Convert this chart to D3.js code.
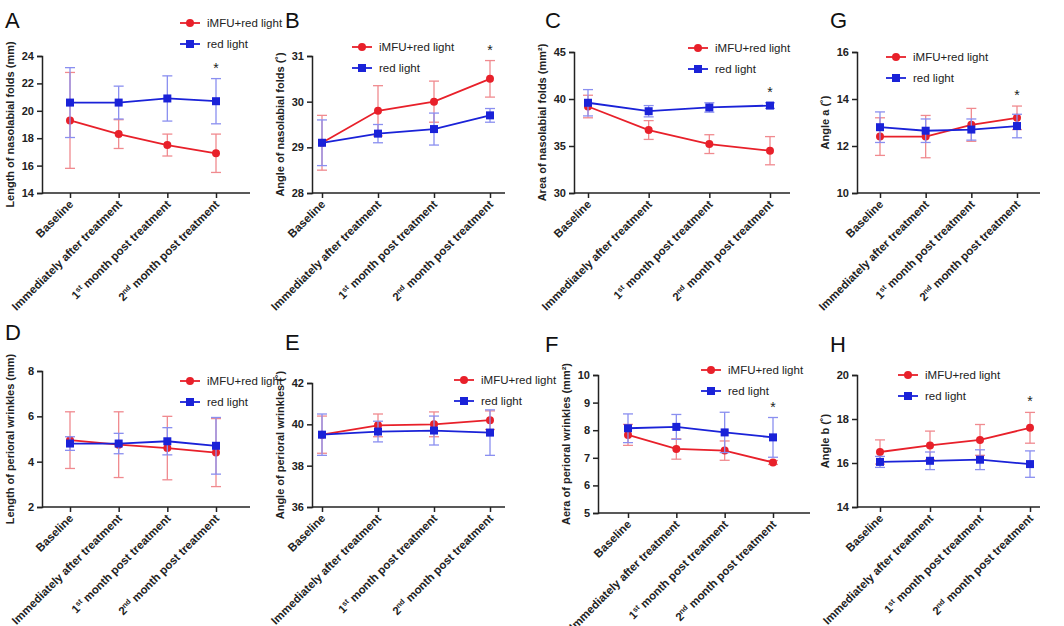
<!DOCTYPE html><html><head><meta charset="utf-8">
<script src="https://cdn.jsdelivr.net/npm/d3@7"></script>
<style>body{margin:0;background:#fff}text{font-family:Arial,"Liberation Sans",sans-serif}</style></head><body>
<svg id="c" width="1064" height="626"></svg>
<script>
const categories=["Baseline","Immediately after treatment","1st month post treatment","2nd month post treatment"];
const seriesNames=["iMFU+red light","red light"];
const panelLetters=["A","B","C","G","D","E","F","H"];
const yLabels=["Length of nasolabial folds (mm)","Angle of nasolabial folds (˚)","Area of nasolabial folds (mm²)","Angle a (˚)","Length of perioral wrinkles (mm)","Angle of perioral wrinkles (˚)","Aera of perioral wrinkles (mm²)","Angle b (˚)"];
const yDomains=[[14,24],[28,31],[30,45],[10,16],[2,8],[36,42],[5,10],[14,20]];
const yStep=[2,1,5,2,2,2,1,2];
const redValues=[[19.3,18.3,17.5,16.9],[29.1,29.8,30.0,30.5],[39.2,36.7,35.2,34.5],[12.4,12.4,12.9,13.2],[4.95,4.75,4.6,4.4],[39.5,39.95,40.0,40.2],[7.83,7.32,7.26,6.83],[16.5,16.8,17.05,17.6]];
const redErr=[[3.5,1.05,0.8,1.4],[0.6,0.55,0.45,0.4],[1.2,1.0,1.0,1.5],[0.8,0.9,0.7,0.5],[1.25,1.45,1.4,1.5],[0.9,0.55,0.6,0.45],[0.38,0.37,0.35,0.07],[0.55,0.65,0.7,0.7]];
const blueValues=[[20.6,20.6,20.9,20.7],[29.1,29.3,29.4,29.7],[39.6,38.7,39.1,39.3],[12.8,12.65,12.7,12.85],[4.8,4.8,4.9,4.7],[39.5,39.65,39.7,39.6],[8.07,8.12,7.92,7.74],[16.05,16.1,16.15,15.95]];
const blueErr=[[2.55,1.2,1.65,1.65],[0.5,0.2,0.35,0.15],[1.4,0.6,0.5,0.3],[0.65,0.5,0.45,0.5],[0.3,0.45,0.6,1.25],[1.0,0.5,0.7,1.1],[0.52,0.45,0.73,0.72],[0.25,0.4,0.45,0.6]];
const starred=[true,true,true,true,false,false,true,true];

const L=[
 {ax:42,right:250,top:56,bot:193,x0:70,x1:216,lx:180,ly:23,lt:[5,28]},
 {ax:312,right:505,top:56,bot:193,x0:322,x1:490,lx:352,ly:47,lt:[285,28]},
 {ax:574,right:790,top:52,bot:193,x0:588,x1:770,lx:688,ly:48,lt:[545,28]},
 {ax:857,right:1040,top:52,bot:193,x0:880,x1:1017,lx:886,ly:57,lt:[830,28]},
 {ax:42,right:250,top:371,bot:507,x0:70,x1:216,lx:180,ly:381,lt:[5,340]},
 {ax:312,right:505,top:383,bot:507,x0:322,x1:490,lx:454,ly:380,lt:[285,350]},
 {ax:598,right:810,top:375,bot:513,x0:628,x1:773,lx:701,ly:370,lt:[545,352]},
 {ax:857,right:1040,top:375,bot:507,x0:880,x1:1030,lx:898,ly:375,lt:[830,352]}];
const svg=d3.select("#c");
const colors=["#e8202a","#1a22d8"], errCol=["#f08a8f","#8a8ff0"];
L.forEach((p,i)=>{
 const g=svg.append("g");
 const x=d3.scalePoint().domain(categories).range([p.x0,p.x1]);
 const y=d3.scaleLinear().domain(yDomains[i]).range([p.bot,p.top]);
 const ticks=d3.range(yDomains[i][0],yDomains[i][1]+1e-9,yStep[i]);
 const ya=g.append("g").attr("transform",`translate(${p.ax},0)`).call(d3.axisLeft(y).tickValues(ticks).tickSize(5).tickFormat(d3.format("d")));
 const xa=g.append("g").attr("transform",`translate(0,${p.bot})`).call(d3.axisBottom(x).tickSize(5).tickFormat(""));
 xa.select(".domain").attr("d",`M${p.ax},0H${p.right}`);
 [ya,xa].forEach(a=>{a.selectAll("path,line").attr("stroke","#222").attr("stroke-width",1.5);});
 ya.selectAll("text").attr("font-size",11).attr("font-weight","bold").attr("fill","#222");
 categories.forEach((c,k)=>{
  const t=g.append("text").attr("transform",`translate(${x(c)+4},${p.bot+12}) rotate(-45)`).attr("text-anchor","end").attr("font-size",11.5).attr("font-weight","bold").attr("fill","#222");
  if(k==2||k==3){t.append("tspan").text(k==2?"1":"2");t.append("tspan").attr("font-size",7.5).attr("dy",-4).text(k==2?"st":"nd");t.append("tspan").attr("dy",4).text(" month post treatment");}
  else t.text(c);
 });
 g.append("text").attr("transform",`translate(${p.ax-28},${(p.top+p.bot)/2}) rotate(-90)`).attr("text-anchor","middle").attr("font-size",11).attr("font-weight","bold").attr("fill","#222").text(yLabels[i]);
 g.append("text").attr("x",p.lt[0]).attr("y",p.lt[1]).attr("font-size",22).attr("fill","#111").text(panelLetters[i]);
 [[redValues,redErr],[blueValues,blueErr]].forEach(([V,E],s)=>{
  const vals=V[i], errs=E[i];
  categories.forEach((c,k)=>{
   const cx=x(c);
   const eg=g.append("g").attr("stroke",errCol[s]).attr("stroke-width",1.3);
   eg.append("line").attr("x1",cx).attr("x2",cx).attr("y1",y(vals[k]-errs[k])).attr("y2",y(vals[k]+errs[k]));
   [vals[k]-errs[k],vals[k]+errs[k]].forEach(v=>eg.append("line").attr("x1",cx-5).attr("x2",cx+5).attr("y1",y(v)).attr("y2",y(v)));
  });
  g.append("path").datum(vals).attr("fill","none").attr("stroke",colors[s]).attr("stroke-width",1.8)
   .attr("d",d3.line().x((d,k)=>x(categories[k])).y(d=>y(d)));
  vals.forEach((v,k)=>{
   if(s==0) g.append("circle").attr("cx",x(categories[k])).attr("cy",y(v)).attr("r",4).attr("fill",colors[0]);
   else g.append("rect").attr("x",x(categories[k])-4).attr("y",y(v)-4).attr("width",8).attr("height",8).attr("fill",colors[1]);
  });
 });
 if(starred[i]){const k=3;const top=Math.max(redValues[i][k]+redErr[i][k],blueValues[i][k]+blueErr[i][k]);
  g.append("text").attr("x",x(categories[k])).attr("y",y(top)-6).attr("text-anchor","middle").attr("font-size",14).attr("fill","#222").text("*");}
 seriesNames.forEach((n,s)=>{
  const ly=p.ly+s*21;
  g.append("line").attr("x1",p.lx).attr("x2",p.lx+20).attr("y1",ly).attr("y2",ly).attr("stroke",colors[s]).attr("stroke-width",1.8);
  if(s==0) g.append("circle").attr("cx",p.lx+10).attr("cy",ly).attr("r",4).attr("fill",colors[0]);
  else g.append("rect").attr("x",p.lx+6).attr("y",ly-4).attr("width",8).attr("height",8).attr("fill",colors[1]);
  g.append("text").attr("x",p.lx+27).attr("y",ly+4).attr("font-size",11.5).attr("fill","#222").text(n);
 });
});
</script></body></html>
